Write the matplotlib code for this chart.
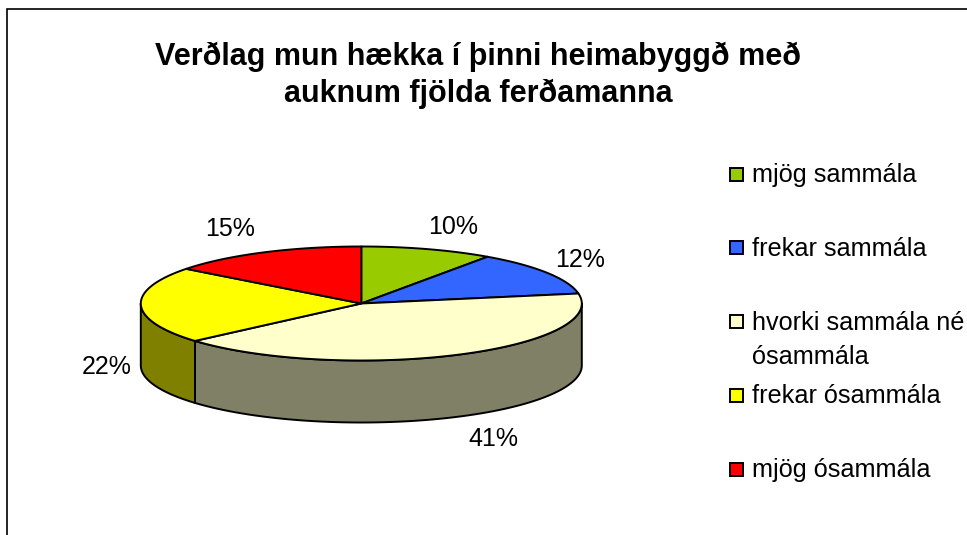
import numpy as np
import matplotlib
matplotlib.use("Agg")
import matplotlib.pyplot as plt
from matplotlib.patches import Polygon, Rectangle

plt.rcParams['font.family'] = ['Liberation Sans', 'DejaVu Sans']

title = "Verðlag mun hækka í þinni heimabyggð með\nauknum fjölda ferðamanna"
categories = ["mjög sammála", "frekar sammála", "hvorki sammála né\nósammála",
              "frekar ósammála", "mjög ósammála"]
values = [9.7, 12.5, 41.4, 21.8, 14.6]
top_colors = ["#99CC00", "#3366FF", "#FFFFCC", "#FFFF00", "#FF0000"]
side_colors = ["#4C6600", "#193380", "#808066", "#808000", "#800000"]

W, H = 967, 535
cx, cy, rx, ry, depth = 361.3, 303.5, 220.5, 57.0, 62.0
label_pos = [(453, 227), (580, 260), (493, 439), (107, 367), (230, 229)]

fig = plt.figure(figsize=(W / 100, H / 100), dpi=100)
ax = fig.add_axes([0, 0, 1, 1])
ax.set_xlim(0, W)
ax.set_ylim(H, 0)
ax.axis('off')

# chart frame (cut off by the image at right and bottom)
ax.plot([7, 7, W + 5], [H + 5, 9, 9], color='black', lw=1.2, solid_joinstyle='miter')


def ell(deg, dz=0.0):
    """deg is clockwise from the top of the pie."""
    t = np.radians(deg)
    return np.column_stack([cx + rx * np.sin(t), cy - ry * np.cos(t) + dz])


edges = 360 * np.cumsum([0] + values) / sum(values)

# side wall: only the front half (90..270 degrees) is visible
for i in range(len(values)):
    a, b = max(edges[i], 90), min(edges[i + 1], 270)
    if b <= a:
        continue
    arc = np.linspace(a, b, 300)
    pts = np.vstack([ell(arc), ell(arc[::-1], depth)])
    ax.add_patch(Polygon(pts, closed=True, fc=side_colors[i], ec='black', lw=1.4, joinstyle='round'))

# top face
for i in range(len(values)):
    arc = np.linspace(edges[i], edges[i + 1], 300)
    pts = np.vstack([[cx, cy], ell(arc)])
    ax.add_patch(Polygon(pts, closed=True, fc=top_colors[i], ec='black', lw=1.4, joinstyle='round'))

# percentage labels
for v, (x, y) in zip(values, label_pos):
    ax.text(x, y, f"{v:.0f}%", ha='center', va='center', fontsize=18, color='black')

# title
ax.text(478, 75.5, title, ha='center', va='center', fontsize=22, fontweight='bold',
        linespacing=1.27, color='black')

# legend
leg_y0, leg_step = 174.0, 73.75
for i, (name, col) in enumerate(zip(categories, top_colors)):
    y = leg_y0 + i * leg_step
    ax.add_patch(Rectangle((729.5, y - 6.5), 13, 13, fc=col, ec='black', lw=1.4))
    ax.text(752, y - 11, name, ha='left', va='top', fontsize=18.2, color='black', linespacing=1.53)

fig.savefig("out.png", dpi=100)
